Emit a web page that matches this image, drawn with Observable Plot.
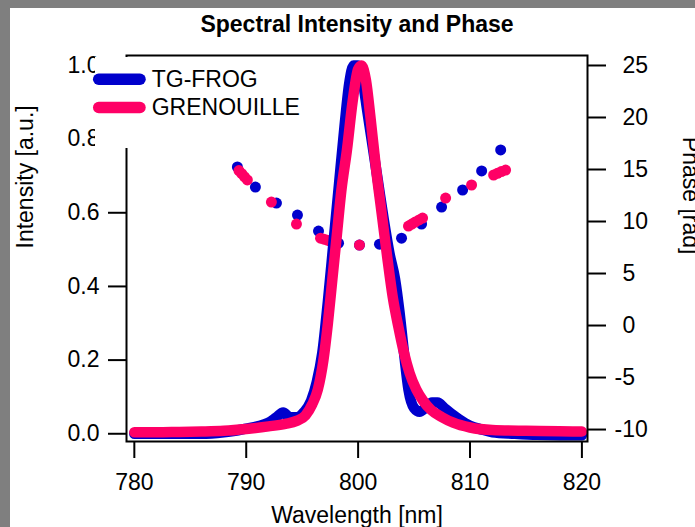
<!DOCTYPE html>
<html><head><meta charset="utf-8">
<script src="https://cdn.jsdelivr.net/npm/d3@7"></script>
<script src="https://cdn.jsdelivr.net/npm/@observablehq/plot@0.6"></script>
<style>
html,body{margin:0;padding:0;background:#fff;}
#wrap{position:absolute;left:0;top:0;width:685px;height:519px;border-left:10px solid #7f7f7f;border-top:8px solid #7f7f7f;background:#fff;overflow:hidden;}
#wrap svg{display:block;max-width:none;}
</style></head><body><div id="wrap"></div>
<script>
const title = "Spectral Intensity and Phase";
const xLabel = "Wavelength [nm]";
const yLabel = "Intensity [a.u.]";
const y2Label = "Phase [rad]";
const seriesNames = ["TG-FROG", "GRENOUILLE"];
const seriesColors = ["#0000cc", "#ff0066"];
const xTicks = [780, 790, 800, 810, 820];
const yTicks = [0, 0.2, 0.4, 0.6, 0.8, 1.0];
const y2Ticks = [-10, -5, 0, 5, 10, 15, 20, 25];

// TG-FROG spectral intensity
const frogWl = [780,782,784,786,788,789,790,791,792,792.7,793.3,793.9,794.5,795.2,795.8,796.3,796.8,797.3,797.8,798.3,798.8,799.2,799.6,800.0,800.4,800.8,801.3,801.8,802.3,802.8,803.3,803.7,804.1,804.5,805.0,805.5,806.0,806.6,807.1,807.7,808.3,809.0,810.0,811.0,812.0,814,816,818,820];
const frogInt = [0.0,0.0,0.0,0.0,0.004,0.008,0.014,0.02,0.03,0.045,0.058,0.045,0.045,0.06,0.09,0.14,0.22,0.36,0.52,0.68,0.84,0.95,1.0,1.0,0.96,0.88,0.78,0.68,0.58,0.49,0.42,0.33,0.22,0.12,0.07,0.06,0.07,0.085,0.085,0.07,0.055,0.04,0.022,0.012,0.004,0.0,-0.003,-0.004,-0.004];

// GRENOUILLE spectral intensity
const grenWl = [780,782,784,786,788,790,792,793.5,794.5,795.3,795.9,796.4,796.9,797.3,797.7,798.1,798.5,799.0,799.5,800.0,800.3,800.7,801.1,801.6,802.1,802.6,803.1,803.6,804.1,804.6,805.2,805.8,806.5,807.5,808.5,810,812,815,818,820];
const grenInt = [0.004,0.004,0.005,0.006,0.008,0.013,0.02,0.027,0.035,0.05,0.08,0.12,0.2,0.3,0.42,0.54,0.66,0.77,0.9,0.99,1.0,0.96,0.86,0.72,0.6,0.48,0.37,0.29,0.22,0.165,0.12,0.09,0.065,0.045,0.03,0.017,0.01,0.008,0.007,0.006];

// Spectral phase (rad)
const frogPhaseWl = [789.21,790.82,792.70,794.58,796.46,798.25,800.12,801.91,803.88,805.67,807.46,809.34,811.04,812.74];
const frogPhase = [15.24,13.31,11.77,10.62,9.08,7.92,7.73,7.82,8.40,9.75,11.39,13.03,14.86,16.88];
const grenPhaseWl = [789.35,789.6,789.85,790.1,792.25,794.49,796.64,796.95,797.25,797.55,797.8,800.12,804.5,804.8,805.1,805.45,805.76,807.82,810.14,812.11,812.45,812.8,813.18];
const grenPhase = [14.9,14.6,14.3,14.0,11.87,9.75,8.40,8.3,8.2,8.1,8.01,7.73,9.56,9.75,9.95,10.15,10.33,12.25,13.51,14.47,14.63,14.8,14.95];

const xDomain = [779.3, 820.5];
const yDomain = [-0.021, 1.027];
const phaseDomain = [-11.15, 25.96];
const ph = d3.scaleLinear().domain(phaseDomain).range(yDomain);

const rows = (xs, ys) => xs.map((x, i) => ({x, y: ys[i]}));
const frogRows = rows(frogWl, frogInt);
const grenRows = rows(grenWl, grenInt);
const frogPh = rows(frogPhaseWl, frogPhase);
const grenPh = rows(grenPhaseWl, grenPhase);

const FONT = '"Liberation Sans", Arial, Helvetica, sans-serif';
const fmt = d => String(Math.round(ph.invert(d)));

const plot = Plot.plot({
  width: 685, height: 519,
  marginLeft: 116, marginRight: 108, marginTop: 47, marginBottom: 86,
  x: {domain: xDomain},
  y: {domain: yDomain},
  style: {fontFamily: FONT, fontSize: "23px", color: "black", background: "white", overflow: "visible"},
  marks: [
    Plot.dot(frogPh, {x: "x", y: d => ph(d.y), r: 5.5, fill: seriesColors[0], stroke: "none"}),
    Plot.dot(grenPh, {x: "x", y: d => ph(d.y), r: 5.5, fill: seriesColors[1], stroke: "none"}),
    Plot.line(frogRows, {x: "x", y: "y", stroke: seriesColors[0], strokeWidth: 10.5, curve: "monotone-x", strokeLinecap: "round", strokeLinejoin: "round"}),
    Plot.line(grenRows, {x: "x", y: "y", stroke: seriesColors[1], strokeWidth: 10.5, curve: "monotone-x", strokeLinecap: "round", strokeLinejoin: "round"}),
    Plot.frame({stroke: "black", strokeWidth: 2}),
    Plot.axisX({ticks: xTicks, tickSize: 17, tickPadding: 15, strokeWidth: 2, label: null, tickFormat: d => String(d)}),
    Plot.axisY({anchor: "left", ticks: yTicks, tickSize: 18, tickPadding: 9, strokeWidth: 2, label: null, tickFormat: d3.format(".1f")}),
    Plot.axisY({anchor: "right", ticks: y2Ticks.filter(v => v >= 0).map(ph), tickSize: 18, tickPadding: 17, strokeWidth: 2, label: null, tickFormat: fmt, textAnchor: "start"}),
    Plot.axisY({anchor: "right", ticks: y2Ticks.filter(v => v < 0).map(ph), tickSize: 18, tickPadding: 9, strokeWidth: 2, label: null, tickFormat: fmt, textAnchor: "start"}),
    Plot.text([title], {text: d => d, frameAnchor: "top", dy: -30.7, lineAnchor: "middle", fontWeight: "bold"}),
    Plot.text([xLabel], {text: d => d, frameAnchor: "bottom", dy: 74.6, lineAnchor: "middle"}),
    Plot.text([yLabel], {text: d => d, frameAnchor: "left", dx: -100.4, lineAnchor: "middle", rotate: -90}),
    Plot.text([y2Label], {text: d => d, frameAnchor: "right", dx: 102.4, dy: 6, lineAnchor: "middle", rotate: 90})
  ]
});

// Legend overlay (white box covering the axis like the original)
const svg = d3.select(plot);
const g = svg.append("g").attr("font-family", FONT).attr("font-size", 23);
g.append("rect").attr("x", 85).attr("y", 49).attr("width", 215).attr("height", 91).attr("fill", "white");
const legY = [71.2, 99.5];
seriesNames.forEach((name, i) => {
  g.append("line").attr("x1", 88.7).attr("x2", 130).attr("y1", legY[i]).attr("y2", legY[i])
    .attr("stroke", seriesColors[i]).attr("stroke-width", 11.5).attr("stroke-linecap", "round");
  g.append("text").attr("x", 141.7).attr("y", legY[i] + 7.6).attr("text-anchor", "start").attr("fill", "black").text(name);
});

document.getElementById("wrap").appendChild(plot);
</script></body></html>
